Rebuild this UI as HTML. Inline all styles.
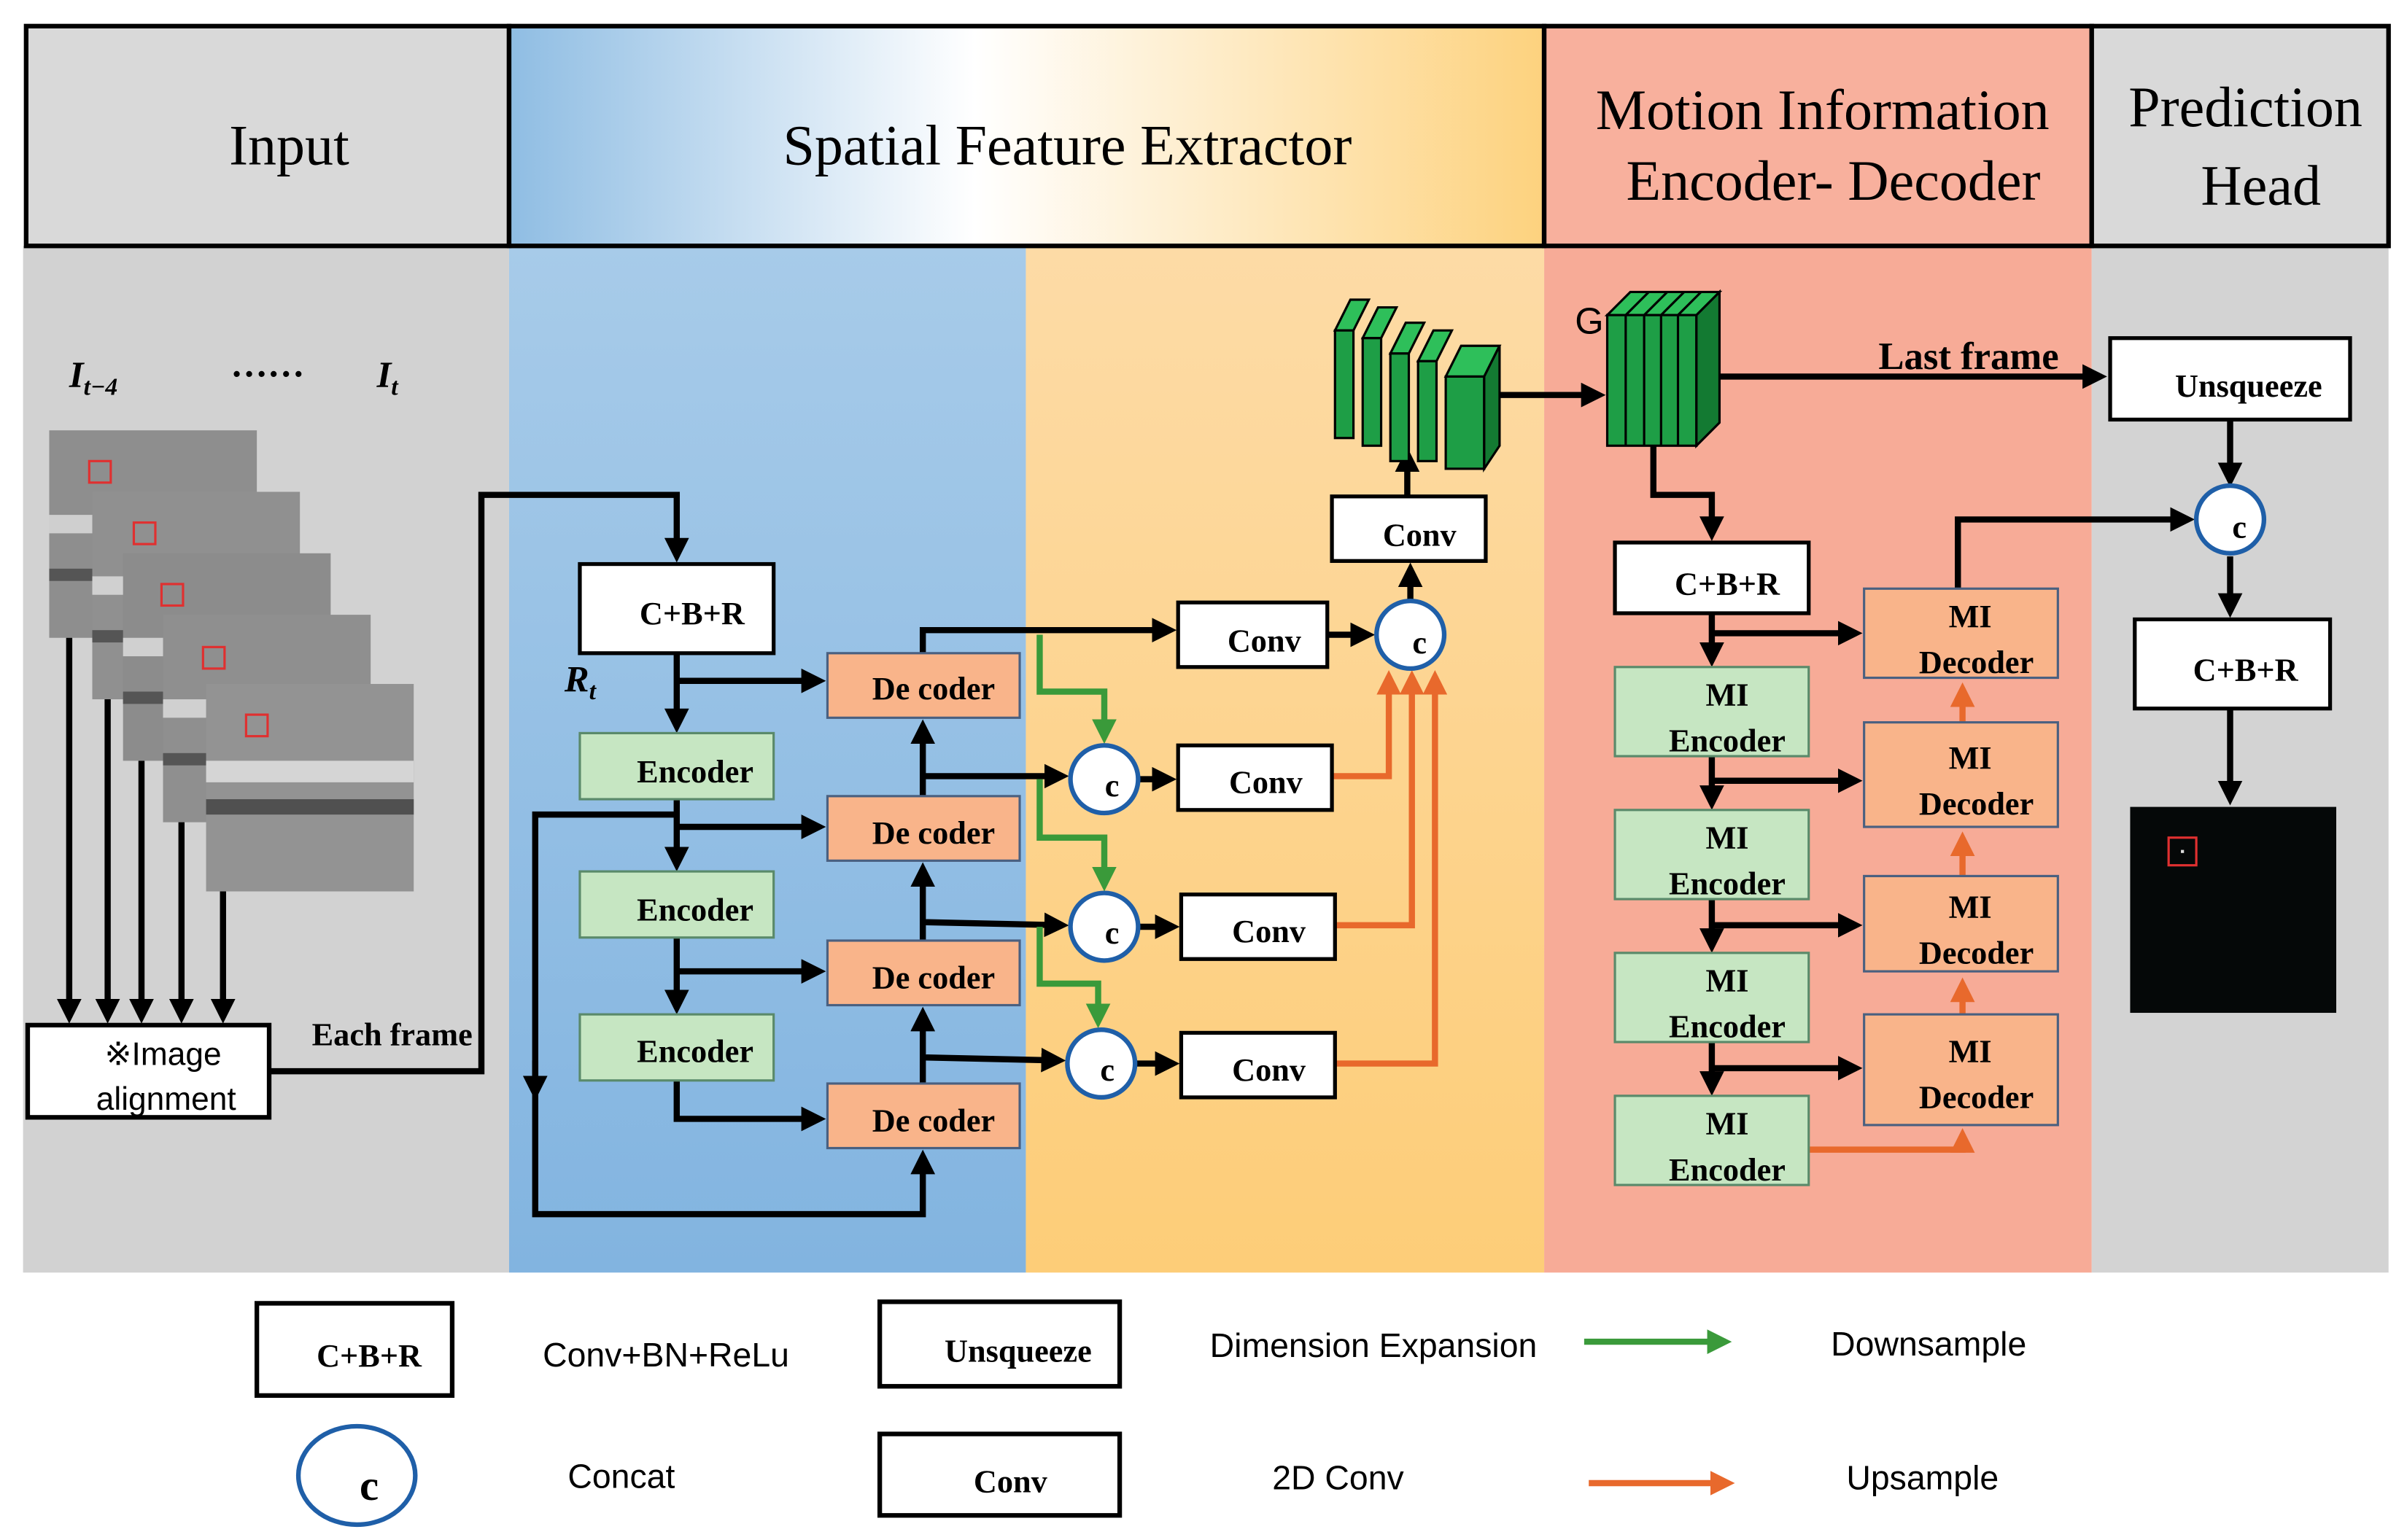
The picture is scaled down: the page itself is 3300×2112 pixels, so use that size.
<!DOCTYPE html>
<html><head><meta charset="utf-8"><style>
html,body{margin:0;padding:0;background:#fff;}
svg{display:block;}
.sb{font-family:"Liberation Serif",serif;font-weight:bold;font-size:21px;}
.hd{font-family:"Liberation Serif",serif;font-size:37px;}
.lg{font-family:"Liberation Sans",sans-serif;font-size:22px;}
</style></head><body>
<svg width="3300" height="2112" viewBox="0 0 1565 1002" preserveAspectRatio="none" xmlns="http://www.w3.org/2000/svg">
<defs>
<linearGradient id="hg" x1="0" x2="1" y1="0" y2="0">
<stop offset="0" stop-color="#8fbde3"/><stop offset="0.45" stop-color="#ffffff"/><stop offset="1" stop-color="#fdd27e"/></linearGradient>
<linearGradient id="bg1" x1="0" x2="0" y1="0" y2="1"><stop offset="0" stop-color="#a7cbe9"/><stop offset="1" stop-color="#82b4e0"/></linearGradient>
<linearGradient id="og1" x1="0" x2="0" y1="0" y2="1"><stop offset="0" stop-color="#fddba6"/><stop offset="1" stop-color="#fdcd78"/></linearGradient>
<marker id="ab" markerWidth="4" markerHeight="4" refX="3" refY="2" orient="auto" markerUnits="strokeWidth"><path d="M0,0 L4,2 L0,4 z" fill="#000"/></marker>
<marker id="ag" markerWidth="4" markerHeight="4" refX="3" refY="2" orient="auto" markerUnits="strokeWidth"><path d="M0,0 L4,2 L0,4 z" fill="#3a9a3a"/></marker>
<marker id="ao" markerWidth="4" markerHeight="4" refX="3" refY="2" orient="auto" markerUnits="strokeWidth"><path d="M0,0 L4,2 L0,4 z" fill="#e8692c"/></marker>
</defs>
<rect width="1565" height="1002" fill="#fff"/>
<rect x="15" y="160" width="316" height="668" fill="#d2d2d2"/>
<rect x="331" y="160" width="336" height="668" fill="url(#bg1)"/>
<rect x="667" y="160" width="337" height="668" fill="url(#og1)"/>
<rect x="1004" y="160" width="356" height="668" fill="#f7ab97"/>
<rect x="1360" y="160" width="193" height="668" fill="#d3d3d3"/>
<rect x="17" y="17" width="314" height="143" fill="#d9d9d9" stroke="#000" stroke-width="3"/>
<rect x="331" y="17" width="673" height="143" fill="url(#hg)" stroke="#000" stroke-width="3"/>
<rect x="1004" y="17" width="356" height="143" fill="#f8b09d" stroke="#000" stroke-width="3"/>
<rect x="1360" y="17" width="193" height="143" fill="#d9d9d9" stroke="#000" stroke-width="3"/>
<text class="hd" x="188" y="107" text-anchor="middle">Input</text>
<text class="hd" x="694" y="107" text-anchor="middle">Spatial Feature Extractor</text>
<text class="hd" x="1185" y="84" text-anchor="middle">Motion Information</text>
<text class="hd" x="1192" y="130" text-anchor="middle">Encoder- Decoder</text>
<text class="hd" x="1460" y="82" text-anchor="middle">Prediction</text>
<text class="hd" x="1470" y="133" text-anchor="middle">Head</text>
<text x="45" y="252" style="font-family:'Liberation Serif',serif;font-style:italic;font-weight:bold;font-size:24px">I<tspan font-size="16" dy="5">t−4</tspan></text>
<text x="150" y="245" style="font-family:'Liberation Serif',serif;font-weight:bold;font-size:24px">……</text>
<text x="245" y="252" style="font-family:'Liberation Serif',serif;font-style:italic;font-weight:bold;font-size:24px">I<tspan font-size="16" dy="5">t</tspan></text>
<g stroke="none">
<rect x="32" y="280" width="135" height="135" fill="#8e8e8e"/><rect x="32" y="335" width="135" height="12" fill="#cfcfcf"/><rect x="32" y="370" width="135" height="8" fill="#555"/>
<rect x="60" y="320" width="135" height="135" fill="#909090"/><rect x="60" y="375" width="135" height="12" fill="#d0d0d0"/><rect x="60" y="410" width="135" height="8" fill="#555"/>
<rect x="80" y="360" width="135" height="135" fill="#8c8c8c"/><rect x="80" y="415" width="135" height="12" fill="#d0d0d0"/><rect x="80" y="450" width="135" height="8" fill="#555"/>
<rect x="106" y="400" width="135" height="135" fill="#8f8f8f"/><rect x="106" y="455" width="135" height="12" fill="#d0d0d0"/><rect x="106" y="490" width="135" height="8" fill="#555"/>
<rect x="134" y="445" width="135" height="135" fill="#939393"/><rect x="134" y="495" width="135" height="14" fill="#d5d5d5"/><rect x="134" y="520" width="135" height="10" fill="#505050"/>
</g>
<g fill="none" stroke="#e03030" stroke-width="1.5">
<rect x="58" y="300" width="14" height="14"/><rect x="87" y="340" width="14" height="14"/><rect x="105" y="380" width="14" height="14"/><rect x="132" y="421" width="14" height="14"/><rect x="160" y="465" width="14" height="14"/></g>
<g stroke="#000" stroke-width="4" marker-end="url(#ab)">
<line x1="45" y1="415" x2="45" y2="662"/><line x1="70" y1="455" x2="70" y2="662"/><line x1="92" y1="495" x2="92" y2="662"/><line x1="118" y1="535" x2="118" y2="662"/><line x1="145" y1="580" x2="145" y2="662"/></g>
<rect x="18" y="667" width="157" height="60" fill="#fff" stroke="#000" stroke-width="3"/>
<text x="106" y="693" text-anchor="middle" style="font-family:'Liberation Sans',sans-serif;font-size:21px">※Image</text>
<text x="108" y="722" text-anchor="middle" style="font-family:'Liberation Sans',sans-serif;font-size:21px">alignment</text>
<text class="sb" x="255" y="680" text-anchor="middle">Each frame</text>
<g fill="none" stroke="#000" stroke-width="4">
<polyline points="175,697 313,697 313,322 440,322 440,362" marker-end="url(#ab)"/>
<line x1="440" y1="425" x2="440" y2="473" marker-end="url(#ab)"/>
<polyline points="440,443 533,443" marker-end="url(#ab)"/>
<line x1="440" y1="520" x2="440" y2="563" marker-end="url(#ab)"/>
<polyline points="440,538 533,538" marker-end="url(#ab)"/>
<line x1="440" y1="610" x2="440" y2="656" marker-end="url(#ab)"/>
<polyline points="440,632 533,632" marker-end="url(#ab)"/>
<polyline points="440,703 440,728 533,728" marker-end="url(#ab)"/>
<polyline points="440,530 348,530 348,790 600,790 600,752" marker-end="url(#ab)"/>
<line x1="348" y1="690" x2="348" y2="712" marker-end="url(#ab)"/>
<line x1="600" y1="705" x2="600" y2="659" marker-end="url(#ab)"/>
<line x1="600" y1="612" x2="600" y2="565" marker-end="url(#ab)"/>
<line x1="600" y1="518" x2="600" y2="472" marker-end="url(#ab)"/>
<polyline points="600,425 600,410 761,410" marker-end="url(#ab)"/>
<line x1="863" y1="413" x2="890" y2="413" marker-end="url(#ab)"/>
<line x1="600" y1="505" x2="691" y2="505" marker-end="url(#ab)"/>
<line x1="600" y1="600" x2="691" y2="602" marker-end="url(#ab)"/>
<line x1="600" y1="688" x2="689" y2="690" marker-end="url(#ab)"/>
<line x1="740" y1="507" x2="761" y2="507" marker-end="url(#ab)"/>
<line x1="740" y1="603" x2="763" y2="603" marker-end="url(#ab)"/>
<line x1="738" y1="692" x2="763" y2="692" marker-end="url(#ab)"/>
<line x1="917" y1="391" x2="917" y2="370" marker-end="url(#ab)"/>
<line x1="915" y1="323" x2="915" y2="295" marker-end="url(#ab)"/>
<line x1="975" y1="257" x2="1040" y2="257" marker-end="url(#ab)"/>
<line x1="1118" y1="245" x2="1366" y2="245" marker-end="url(#ab)"/>
<polyline points="1075,290 1075,322 1113,322 1113,348" marker-end="url(#ab)"/>
<line x1="1113" y1="399" x2="1113" y2="430" marker-end="url(#ab)"/>
<line x1="1113" y1="412" x2="1207" y2="412" marker-end="url(#ab)"/>
<line x1="1113" y1="492" x2="1113" y2="523" marker-end="url(#ab)"/>
<line x1="1113" y1="508" x2="1207" y2="508" marker-end="url(#ab)"/>
<line x1="1113" y1="585" x2="1113" y2="616" marker-end="url(#ab)"/>
<line x1="1113" y1="602" x2="1207" y2="602" marker-end="url(#ab)"/>
<line x1="1113" y1="678" x2="1113" y2="709" marker-end="url(#ab)"/>
<line x1="1113" y1="695" x2="1207" y2="695" marker-end="url(#ab)"/>
<polyline points="1273,383 1273,338 1423,338" marker-end="url(#ab)"/>
<line x1="1450" y1="273" x2="1450" y2="313" marker-end="url(#ab)"/>
<line x1="1450" y1="362" x2="1450" y2="398" marker-end="url(#ab)"/>
<line x1="1450" y1="461" x2="1450" y2="520" marker-end="url(#ab)"/>
</g>
<g fill="none" stroke="#3a9a3a" stroke-width="4">
<polyline points="676,413 676,450 718,450 718,480" marker-end="url(#ag)"/>
<polyline points="676,507 676,545 718,545 718,576" marker-end="url(#ag)"/>
<polyline points="676,603 676,640 714,640 714,665" marker-end="url(#ag)"/>
</g>
<g fill="none" stroke="#e8692c" stroke-width="4">
<polyline points="866,505 903,505 903,440" marker-end="url(#ao)"/>
<polyline points="868,602 918,602 918,440" marker-end="url(#ao)"/>
<polyline points="868,692 933,692 933,440" marker-end="url(#ao)"/>
<polyline points="1176,748 1276,748 1276,738" marker-end="url(#ao)"/>
<line x1="1276" y1="660" x2="1276" y2="640" marker-end="url(#ao)"/>
<line x1="1276" y1="570" x2="1276" y2="545" marker-end="url(#ao)"/>
<line x1="1276" y1="470" x2="1276" y2="448" marker-end="url(#ao)"/>
</g>
<g stroke="#000" stroke-width="2.5" fill="#fff">
<rect x="377" y="367" width="126" height="58"/>
<rect x="766" y="392" width="97" height="42"/>
<rect x="766" y="485" width="100" height="42"/>
<rect x="768" y="582" width="100" height="42"/>
<rect x="768" y="672" width="100" height="42"/>
<rect x="866" y="323" width="100" height="42"/>
<rect x="1050" y="353" width="126" height="46"/>
<rect x="1372" y="220" width="156" height="53"/>
<rect x="1388" y="403" width="127" height="58"/>
</g>
<g fill="#c6e6c2" stroke="#5a8a6a" stroke-width="1.5">
<rect x="377" y="477" width="126" height="43"/><rect x="377" y="567" width="126" height="43"/><rect x="377" y="660" width="126" height="43"/>
<rect x="1050" y="434" width="126" height="58"/><rect x="1050" y="527" width="126" height="58"/><rect x="1050" y="620" width="126" height="58"/><rect x="1050" y="713" width="126" height="58"/>
</g>
<g fill="#f9b48a" stroke="#4a6080" stroke-width="1.5">
<rect x="538" y="425" width="125" height="42"/><rect x="538" y="518" width="125" height="42"/><rect x="538" y="612" width="125" height="42"/><rect x="538" y="705" width="125" height="42"/>
<rect x="1212" y="383" width="126" height="58"/><rect x="1212" y="470" width="126" height="68"/><rect x="1212" y="570" width="126" height="62"/><rect x="1212" y="660" width="126" height="72"/>
</g>
<g fill="#fff" stroke="#1f5fa8" stroke-width="3">
<circle cx="917" cy="413" r="22"/><circle cx="718" cy="507" r="22"/><circle cx="718" cy="603" r="22"/><circle cx="716" cy="692" r="22"/><circle cx="1450" cy="338" r="22"/>
<ellipse cx="232" cy="960" rx="38" ry="32"/>
</g>
<g stroke="#000" stroke-width="3" fill="#fff">
<rect x="167" y="848" width="127" height="60"/><rect x="572" y="847" width="156" height="55"/><rect x="572" y="933" width="156" height="53"/></g>
<g class="sb" text-anchor="middle">
<text x="450" y="406">C+B+R</text>
<text x="452" y="509">Encoder</text><text x="452" y="599">Encoder</text><text x="452" y="691">Encoder</text>
<text x="607" y="455">De coder</text><text x="607" y="549">De coder</text><text x="607" y="643">De coder</text><text x="607" y="736">De coder</text>
<text x="822" y="424">Conv</text><text x="823" y="516">Conv</text><text x="825" y="613">Conv</text><text x="825" y="703">Conv</text><text x="923" y="355">Conv</text>
<text x="923" y="425">c</text><text x="723" y="518">c</text><text x="723" y="614">c</text><text x="720" y="703">c</text><text x="1456" y="350">c</text>
<text x="1123" y="387">C+B+R</text>
<text x="1123" y="459">MI</text><text x="1123" y="489">Encoder</text>
<text x="1123" y="552">MI</text><text x="1123" y="582">Encoder</text>
<text x="1123" y="645">MI</text><text x="1123" y="675">Encoder</text>
<text x="1123" y="738">MI</text><text x="1123" y="768">Encoder</text>
<text x="1281" y="408">MI</text><text x="1285" y="438">Decoder</text>
<text x="1281" y="500">MI</text><text x="1285" y="530">Decoder</text>
<text x="1281" y="597">MI</text><text x="1285" y="627">Decoder</text>
<text x="1281" y="691">MI</text><text x="1285" y="721">Decoder</text>
<text x="1462" y="258">Unsqueeze</text>
<text x="1460" y="443">C+B+R</text>
<text x="1280" y="240" style="font-size:25px">Last frame</text>
<text x="240" y="889">C+B+R</text>
<text x="662" y="886">Unsqueeze</text>
<text x="657" y="971">Conv</text>
<text x="240" y="976" style="font-size:28px">c</text>
</g>
<text x="367" y="450" style="font-family:'Liberation Serif',serif;font-style:italic;font-weight:bold;font-size:24px">R<tspan font-size="16" dy="5">t</tspan></text>
<g fill="#1e9e46" stroke="#000" stroke-width="1.5">
<path d="M868,215 L878,195 L890,195 L880,215 Z" fill="#2ebf5a"/><rect x="868" y="215" width="12" height="70"/>
<path d="M886,220 L896,200 L908,200 L898,220 Z" fill="#2ebf5a"/><rect x="886" y="220" width="12" height="70"/>
<path d="M904,230 L914,210 L926,210 L916,230 Z" fill="#2ebf5a"/><rect x="904" y="230" width="12" height="70"/>
<path d="M922,235 L932,215 L944,215 L934,235 Z" fill="#2ebf5a"/><rect x="922" y="235" width="12" height="65"/>
<path d="M940,245 L950,225 L975,225 L965,245 Z" fill="#2ebf5a"/><rect x="940" y="245" width="25" height="60"/><path d="M965,245 L975,225 L975,290 L965,305 Z" fill="#137a32"/>
</g>
<g fill="#1e9e46" stroke="#000" stroke-width="1.5">
<path d="M1045,205 L1060,190 L1118,190 L1103,205 Z" fill="#2ebf5a"/>
<rect x="1045" y="205" width="58" height="85"/><path d="M1103,205 L1118,190 L1118,275 L1103,290 Z" fill="#137a32"/>
<line x1="1057" y1="205" x2="1057" y2="290"/><line x1="1069" y1="205" x2="1069" y2="290"/><line x1="1080" y1="205" x2="1080" y2="290"/><line x1="1091" y1="205" x2="1091" y2="290"/>
<line x1="1057" y1="205" x2="1072" y2="190"/><line x1="1069" y1="205" x2="1084" y2="190"/><line x1="1080" y1="205" x2="1095" y2="190"/><line x1="1091" y1="205" x2="1106" y2="190"/>
</g>
<text x="1024" y="217" style="font-family:'Liberation Sans',sans-serif;font-size:24px">G</text>
<rect x="1385" y="525" width="134" height="134" fill="#050808"/>
<rect x="1410" y="545" width="18" height="18" fill="none" stroke="#e03030" stroke-width="1.5"/>
<rect x="1418" y="553" width="2" height="2" fill="#ddd"/>
<text class="lg" x="433" y="889" text-anchor="middle">Conv+BN+ReLu</text>
<text class="lg" x="893" y="883" text-anchor="middle">Dimension Expansion</text>
<text class="lg" x="1254" y="882" text-anchor="middle">Downsample</text>
<text class="lg" x="404" y="968" text-anchor="middle">Concat</text>
<text class="lg" x="870" y="969" text-anchor="middle">2D Conv</text>
<text class="lg" x="1250" y="969" text-anchor="middle">Upsample</text>
<line x1="1030" y1="873" x2="1122" y2="873" stroke="#3a9a3a" stroke-width="4" marker-end="url(#ag)"/>
<line x1="1033" y1="965" x2="1124" y2="965" stroke="#e8692c" stroke-width="4" marker-end="url(#ao)"/>
</svg>
</body></html>
